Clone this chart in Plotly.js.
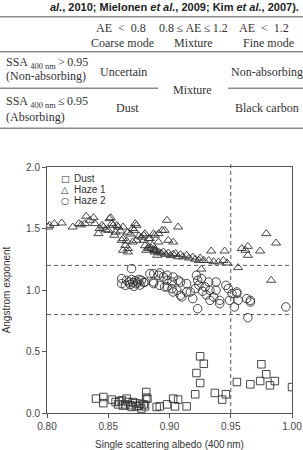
<!DOCTYPE html>
<html>
<head>
<meta charset="utf-8">
<script src="https://cdn.plot.ly/plotly-3.0.1.min.js"></script>
<style>
  html, body { margin: 0; padding: 0; background: #fff; }
  #chart { width: 303px; height: 450px; }
</style>
</head>
<body>
<div id="chart"></div>
<script>
// Single scattering albedo (400 nm) vs Angstrom exponent, three aerosol cases
const dustSSA = [0.840, 0.846, 0.846, 0.853, 0.856, 0.858, 0.861, 0.865, 0.864, 0.868, 0.870, 0.869,
  0.873, 0.876, 0.877, 0.881, 0.882, 0.879, 0.862, 0.866, 0.872, 0.875, 0.859, 0.880, 0.881, 0.8895,
  0.892, 0.898, 0.903, 0.9045, 0.907, 0.914, 0.921, 0.922, 0.925, 0.928, 0.925, 0.937, 0.943, 0.946,
  0.955, 0.966, 0.974, 0.975, 0.979, 0.982, 0.986, 1.000];
const dustAE = [0.117, 0.130, 0.080, 0.109, 0.089, 0.070, 0.103, 0.117, 0.070, 0.063, 0.089, 0.049,
  0.054, 0.076, 0.036, 0.171, 0.117, 0.070, 0.060, 0.090, 0.080, 0.060, 0.095, 0.054, 0.125, 0.049,
  0.054, 0.070, 0.117, 0.054, 0.109, 0.054, 0.152, 0.325, 0.461, 0.400, 0.244, 0.163, 0.109, 0.152,
  0.252, 0.233, 0.260, 0.396, 0.315, 0.225, 0.260, 0.211];

const haze1SSA = [0.801, 0.802, 0.806, 0.812, 0.821, 0.826, 0.828, 0.831, 0.832, 0.835, 0.838, 0.839,
  0.842, 0.843, 0.845, 0.846, 0.848, 0.850, 0.851, 0.852, 0.853, 0.854, 0.855, 0.856, 0.857, 0.858,
  0.860, 0.861, 0.862, 0.862, 0.864, 0.862, 0.866, 0.866, 0.865, 0.866, 0.868, 0.870, 0.871, 0.872,
  0.873, 0.873, 0.870, 0.875, 0.877, 0.879, 0.879, 0.880, 0.881, 0.883, 0.883, 0.884, 0.886, 0.887,
  0.888, 0.888, 0.888, 0.890, 0.891, 0.891, 0.894, 0.896, 0.898, 0.899, 0.903, 0.907,
  0.880, 0.883, 0.885, 0.887, 0.889, 0.891, 0.893, 0.895, 0.897, 0.899, 0.901, 0.903, 0.905, 0.907,
  0.909, 0.911, 0.914, 0.916, 0.919, 0.921, 0.924, 0.925, 0.928, 0.932, 0.934, 0.936, 0.940, 0.944,
  0.945, 0.947,
  0.926, 0.956, 0.983, 0.959, 0.962, 0.964, 0.964, 0.974, 0.979, 0.987];
const haze1AE = [1.512, 1.526, 1.540, 1.545, 1.512, 1.540, 1.530, 1.540, 1.600, 1.567, 1.588, 1.540,
  1.458, 1.500, 1.526, 1.512, 1.490, 1.485, 1.580, 1.588, 1.540, 1.526, 1.445, 1.470, 1.526, 1.512,
  1.480, 1.404, 1.418, 1.512, 1.363, 1.323, 1.337, 1.309, 1.398, 1.470, 1.455, 1.500, 1.485, 1.540,
  1.526, 1.404, 1.390, 1.440, 1.430, 1.445, 1.404, 1.458, 1.323, 1.418, 1.337, 1.418, 1.363, 1.458,
  1.445, 1.309, 1.323, 1.282, 1.458, 1.390, 1.485, 1.485, 1.567, 1.404, 1.390, 1.512,
  1.360, 1.350, 1.340, 1.330, 1.320, 1.310, 1.300, 1.310, 1.290, 1.300, 1.280, 1.290, 1.296, 1.270,
  1.288, 1.270, 1.282, 1.260, 1.268, 1.250, 1.240, 1.260, 1.240, 1.240, 1.317, 1.230, 1.228, 1.240,
  1.317, 1.220,
  1.170, 1.182, 1.079, 1.337, 1.323, 1.355, 1.282, 1.317, 1.458, 1.382];

const haze2SSA = [0.869, 0.887, 0.892, 0.861, 0.861, 0.864, 0.865, 0.867, 0.868, 0.869, 0.870, 0.871,
  0.872, 0.873, 0.874, 0.875, 0.876, 0.877, 0.879, 0.880, 0.884, 0.887, 0.887, 0.891, 0.892, 0.895,
  0.896, 0.898, 0.898, 0.898, 0.902, 0.902, 0.903, 0.903, 0.906, 0.907, 0.909, 0.909, 0.910, 0.914,
  0.914, 0.917, 0.919, 0.921, 0.922, 0.923, 0.924, 0.926, 0.927, 0.929, 0.930, 0.932, 0.933, 0.933,
  0.936, 0.938, 0.938, 0.941, 0.941, 0.946, 0.948, 0.949, 0.951, 0.955, 0.955, 0.956, 0.963, 0.966,
  0.966, 0.923, 0.953, 0.964, 0.995];
const haze2AE = [1.174, 1.133, 1.139, 1.093, 1.052, 1.038, 1.079, 1.065, 1.045, 1.085, 1.060, 1.030,
  1.075, 1.050, 1.065, 1.085, 1.040, 1.079, 1.060, 1.065, 1.133, 1.065, 1.052, 1.120, 1.038, 1.106,
  1.025, 1.079, 1.120, 1.025, 1.065, 1.011, 0.984, 1.106, 0.998, 1.079, 1.065, 0.957, 0.943, 1.052,
  0.984, 0.984, 0.930, 1.011, 1.120, 1.079, 1.040, 1.093, 0.990, 1.025, 0.960, 1.065, 0.998, 0.916,
  0.943, 1.065, 0.998, 0.916, 0.889, 1.038, 1.011, 0.916, 0.971, 0.984, 0.971, 0.916, 0.930, 0.902,
  0.916, 0.848, 0.862, 0.775, 0.862];

const seriesNames = ['Dust', 'Haze 1', 'Haze 2'];
const xTicks = [0.80, 0.85, 0.90, 0.95, 1.00];
const yTicks = [0.0, 0.5, 1.0, 1.5, 2.0];
const aeBounds = [0.8, 1.2];
const ssaBound = 0.95;

// Plot-area box in page pixels, used to place the table above the chart
const W = 303, H = 450;
const L = 47, R = 292, T = 167, B = 413;
const px = x => (x - L) / (R - L);
const py = y => (B - y) / (B - T);

const ink = '#333';
const serif = 'Liberation Serif, Times New Roman, serif';
const sans = 'Liberation Sans, Arial, Helvetica, sans-serif';

function series(x, y, name, symbol, size) {
  return {
    x: x, y: y, name: name, type: 'scatter', mode: 'markers', showlegend: false,
    marker: { symbol: symbol, size: size, color: ink, line: { color: ink, width: 0.9 } },
    cliponaxis: true
  };
}

const traces = [
  series(dustSSA, dustAE, seriesNames[0], 'square-open', 7.5),
  series(haze1SSA, haze1AE, seriesNames[1], 'triangle-up-open', 8),
  series(haze2SSA, haze2AE, seriesNames[2], 'circle-open', 8.5)
];

const grey = '#555';
const shapes = [];
aeBounds.forEach(v => shapes.push({
  type: 'line', xref: 'paper', yref: 'y', x0: 0, x1: 1, y0: v, y1: v,
  line: { color: grey, width: 1, dash: '4px,3px' }
}));
shapes.push({
  type: 'line', xref: 'x', yref: 'paper', x0: ssaBound, x1: ssaBound, y0: 0, y1: py(162),
  line: { color: grey, width: 1, dash: '4px,3px' }
});

// table rules
const rule = (x0, x1, y) => ({
  type: 'line', xref: 'paper', yref: 'paper', x0: px(x0), x1: px(x1), y0: py(y), y1: py(y),
  line: { color: '#8a8a8a', width: 1.4 }
});
shapes.push(rule(0, 303, 16.7), rule(0, 303, 51.7), rule(0, 158, 88.3), rule(228, 303, 88.3), rule(0, 303, 128.3));

const annotations = [];
const note = (text, x, y, anchor, font, h) => annotations.push(Object.assign({
  text: text, xref: 'paper', yref: 'paper', x: px(x), y: py(y),
  xanchor: anchor, yanchor: 'middle', showarrow: false, font: font
}, h ? { height: h, borderpad: 0 } : {}));
const cell = { family: serif, size: 12, color: ink };

note('<b><i>al.</i>, 2010; Mielonen <i>et al.</i>, 2009; Kim <i>et al.</i>, 2007).</b>', 48, 7, 'left',
  { family: sans, size: 11, color: '#222' });

note('AE\u2002<\u20020.8', 121, 28.3, 'center', cell);
note('Coarse mode', 122, 43.3, 'center', cell);
note('0.8\u2009\u2264\u2009AE\u2009\u2264\u20091.2', 193, 28.3, 'center', cell);
note('Mixture', 193, 43.3, 'center', cell);
note('AE\u2002<\u20021.2', 264, 28.3, 'center', cell);
note('Fine mode', 268, 43.3, 'center', cell);

note('SSA <sub>400 nm</sub>\u2009>\u20090.95', 4, 63.3, 'left', cell);
note('(Non-absorbing)', 4, 76.3, 'left', cell);
note('Uncertain', 123.5, 71.7, 'center', cell);
note('Non-absorbing', 266.5, 72, 'center', cell);
note('Mixture', 192.5, 90, 'center', cell);
note('SSA <sub>400 nm</sub>\u2009\u2264\u20090.95', 4, 101.7, 'left', cell);
note('(Absorbing)', 4, 116.7, 'left', cell);
note('Dust', 127.3, 108, 'center', cell);
note('Black carbon', 266.7, 108.3, 'center', cell);

// legend keys
const keys = ['\u25A1', '\u25B3', '\u25CB'];
const keyY = [178, 189, 200];
seriesNames.forEach((n, i) => {
  note(keys[i], 65, keyY[i], 'center', { family: 'DejaVu Sans', size: 9.5, color: ink }, 10);
  note(n, 73, keyY[i], 'left', { family: sans, size: 10, color: ink }, 10);
});

const axisCommon = {
  showline: true, mirror: true, linecolor: grey, linewidth: 1,
  ticks: 'outside', ticklen: 4, tickcolor: grey, tickwidth: 1,
  showgrid: false, zeroline: false, automargin: false,
  tickfont: { family: sans, size: 10, color: '#444' }
};

const layout = {
  width: W, height: H, autosize: false,
  margin: { l: L, r: W - R, t: T, b: H - B, pad: 0 },
  paper_bgcolor: '#fff', plot_bgcolor: '#fff',
  showlegend: false,
  xaxis: Object.assign({}, axisCommon, {
    range: [0.8, 1.0], tickvals: xTicks, tickformat: '.2f',
    title: { text: 'Single scattering albedo (400\u2009nm)', font: { family: sans, size: 10, color: ink }, standoff: 19 }
  }),
  yaxis: Object.assign({}, axisCommon, {
    range: [0, 2], tickvals: yTicks, tickformat: '.1f',
    title: { text: 'Angstrom exponent', font: { family: sans, size: 10, color: ink }, standoff: 13 }
  }),
  shapes: shapes,
  annotations: annotations
};

Plotly.newPlot('chart', traces, layout, { staticPlot: true, displayModeBar: false });
</script>
</body>
</html>
